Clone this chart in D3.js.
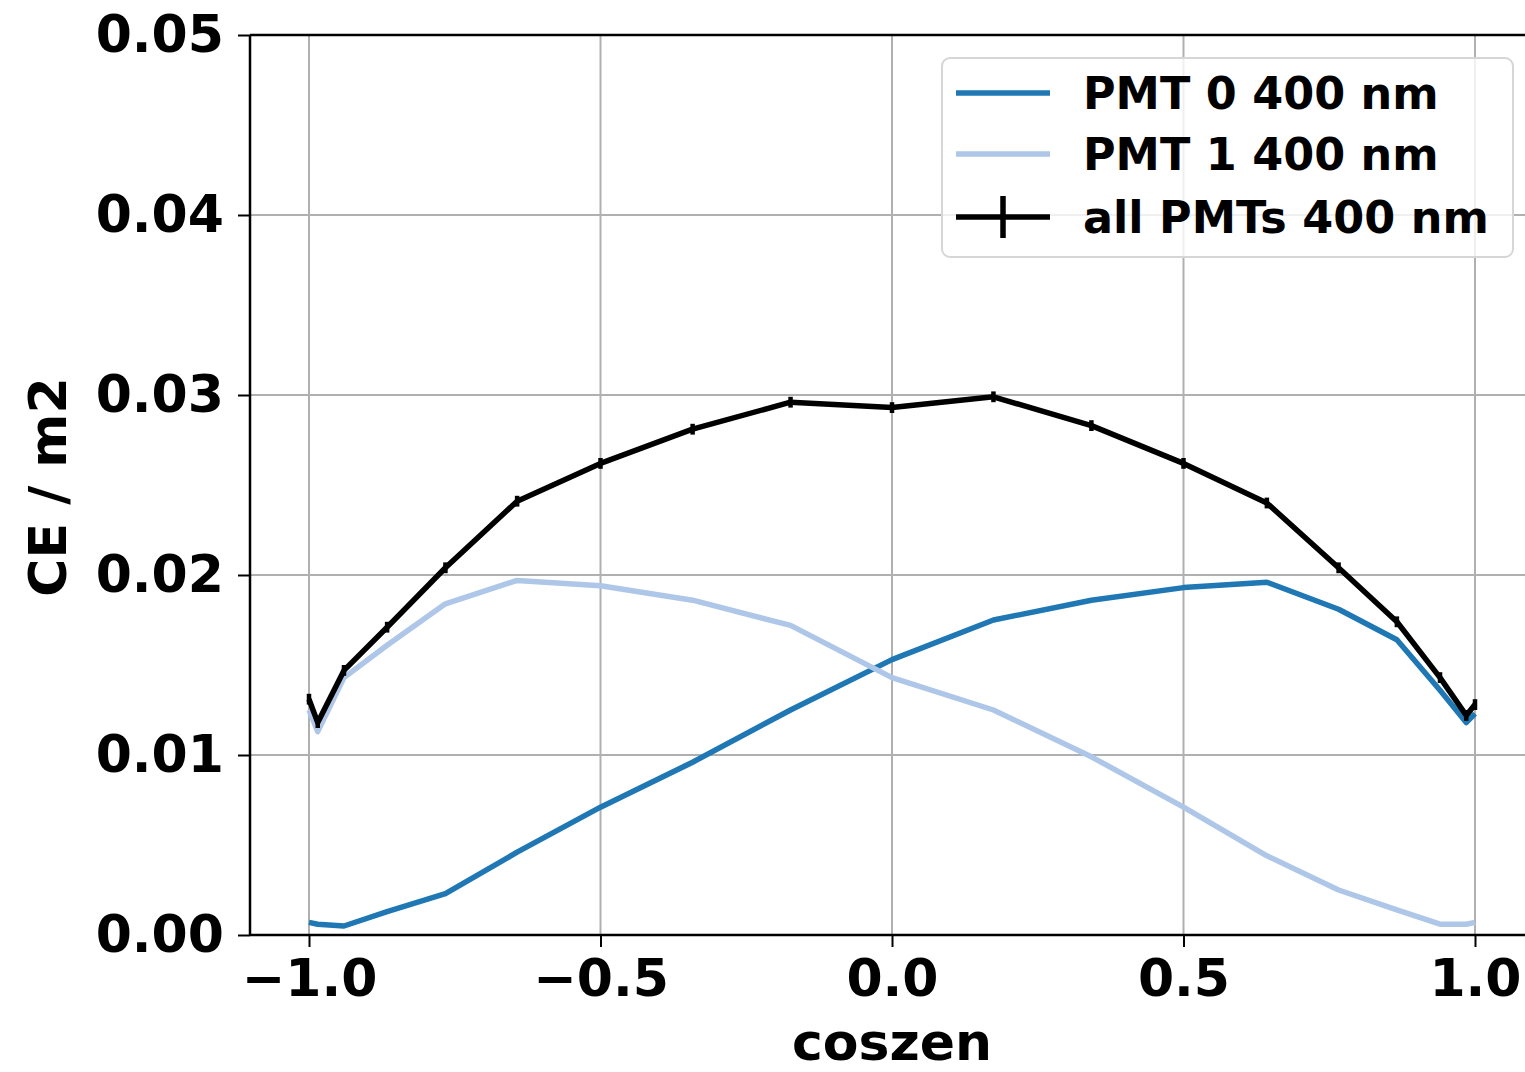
<!DOCTYPE html>
<html lang="en">
<head>
    <meta charset="UTF-8">
    <title>CE vs coszen</title>
    <script src="https://d3js.org/d3.v7.min.js"></script>
    <style>
        body { margin: 0; background: #fff; }
        text { font-family: "DejaVu Sans", sans-serif; font-weight: bold; }
        .grid line { stroke: #b0b0b0; stroke-width: 2px; }
        .series { fill: none; stroke-width: 5.5px; stroke-linejoin: round; }
    </style>
</head>
<body>
    <svg width="1525" height="1072"></svg>
    <script>
        // cos(zenith) sample points, 180 deg .. 0 deg in 10 deg steps
        const coszen = [-1.0, -0.985, -0.940, -0.866, -0.766, -0.643, -0.5, -0.342, -0.174, 0.0,
                        0.174, 0.342, 0.5, 0.643, 0.766, 0.866, 0.940, 0.985, 1.0];

        const pmt0 = [0.0007, 0.0006, 0.0005, 0.0013, 0.0023, 0.0046, 0.0071, 0.0096, 0.0125, 0.0153,
                      0.0175, 0.0186, 0.0193, 0.0196, 0.0181, 0.0164, 0.0136, 0.0118, 0.0123];
        const pmt1 = [0.0125, 0.0113, 0.0143, 0.0161, 0.0184, 0.0197, 0.0194, 0.0186, 0.0172, 0.0143,
                      0.0125, 0.0099, 0.0071, 0.0044, 0.0025, 0.0014, 0.0006, 0.0006, 0.0007];
        const allPmts = [0.0131, 0.0118, 0.0147, 0.0171, 0.0204, 0.0241, 0.0262, 0.0281, 0.0296, 0.0293,
                         0.0299, 0.0283, 0.0262, 0.0240, 0.0204, 0.0174, 0.0143, 0.0122, 0.0128];
        const allErr = [0.0003, 0.0003, 0.0003, 0.0003, 0.0003, 0.0003, 0.0003, 0.0003, 0.0003, 0.0003,
                        0.0003, 0.0003, 0.0003, 0.0003, 0.0003, 0.0003, 0.0003, 0.0003, 0.0003];

        const xTicks = [-1.0, -0.5, 0.0, 0.5, 1.0];
        const yTicks = [0.00, 0.01, 0.02, 0.03, 0.04, 0.05];

        const legendLabels = ["PMT 0 400 nm", "PMT 1 400 nm", "all PMTs 400 nm"];
        const colors = ["#1f77b4", "#aec7e8", "#000000"];

        const svg = d3.select("svg");
        const plotLeft = 250, plotTop = 35, plotBottom = 935;

        const x = d3.scaleLinear().domain([-1.1, 1.1]).range([250.7, 1533.3]);
        const y = d3.scaleLinear().domain([0, 0.05]).range([plotBottom, plotTop]);
        const plotRight = x(1.1);

        // grid
        const grid = svg.append("g").attr("class", "grid");
        grid.selectAll(".gx").data(xTicks).enter().append("line")
            .attr("x1", d => x(d)).attr("x2", d => x(d))
            .attr("y1", plotTop).attr("y2", plotBottom);
        grid.selectAll(".gy").data(yTicks).enter().append("line")
            .attr("x1", plotLeft).attr("x2", plotRight)
            .attr("y1", d => y(d)).attr("y2", d => y(d));

        // series
        const line = (ys) => d3.line().x((d, i) => x(coszen[i])).y(d => y(d))(ys);
        svg.append("path").attr("class", "series").attr("stroke", colors[0]).attr("d", line(pmt0));
        svg.append("path").attr("class", "series").attr("stroke", colors[1]).attr("d", line(pmt1));
        svg.append("path").attr("class", "series").attr("stroke", colors[2]).attr("stroke-width", 5).attr("d", line(allPmts));

        // error bars on the total
        svg.append("g").selectAll("line").data(allPmts).enter().append("line")
            .attr("x1", (d, i) => x(coszen[i])).attr("x2", (d, i) => x(coszen[i]))
            .attr("y1", (d, i) => y(d - allErr[i])).attr("y2", (d, i) => y(d + allErr[i]))
            .attr("stroke", "#000").attr("stroke-width", 4.5);

        // axes
        const xAxis = d3.axisBottom(x).tickValues(xTicks).tickSize(12).tickPadding(12)
            .tickFormat(d => d3.format(".1f")(d).replace("-", "\u2212"));
        const gx = svg.append("g").attr("transform", `translate(0,${plotBottom})`).call(xAxis);
        gx.select(".domain").remove();
        gx.append("line").attr("x1", plotLeft).attr("x2", plotRight).attr("stroke", "#000").attr("stroke-width", 2.5);
        gx.selectAll(".tick line").attr("stroke-width", 2);
        gx.selectAll(".tick text").attr("font-size", 52).attr("fill", "#000").attr("dy", "0.71em");

        const yAxis = d3.axisLeft(y).tickValues(yTicks).tickSize(12).tickPadding(14)
            .tickFormat(d3.format(".2f"));
        const gy = svg.append("g").attr("transform", `translate(${plotLeft},0)`).call(yAxis);
        gy.select(".domain").remove();
        gy.append("line").attr("y1", plotTop).attr("y2", plotBottom).attr("stroke", "#000").attr("stroke-width", 2.5);
        gy.selectAll(".tick line").attr("stroke-width", 2);
        gy.selectAll(".tick text").attr("font-size", 52).attr("fill", "#000");

        // top spine
        svg.append("line").attr("x1", plotLeft).attr("x2", plotRight).attr("y1", plotTop).attr("y2", plotTop)
            .attr("stroke", "#000").attr("stroke-width", 2.5);

        // axis labels
        svg.append("text").attr("x", x(0)).attr("y", 1060).attr("text-anchor", "middle")
            .attr("font-size", 52).text("coszen");
        svg.append("text").attr("transform", "translate(66,487) rotate(-90)")
            .attr("text-anchor", "middle").attr("font-size", 52).text("CE / m2");

        // legend
        const lg = svg.append("g");
        lg.append("rect").attr("x", 942).attr("y", 58).attr("width", 571).attr("height", 199)
            .attr("rx", 8).attr("fill", "#fff").attr("fill-opacity", 0.8)
            .attr("stroke", "#d6d6d6").attr("stroke-width", 2);
        const rowY = [93, 154, 217];
        legendLabels.forEach((lab, i) => {
            lg.append("line").attr("x1", 956).attr("x2", 1050).attr("y1", rowY[i]).attr("y2", rowY[i])
                .attr("stroke", colors[i]).attr("stroke-width", 5.5);
            if (i === 2) {
                lg.append("line").attr("x1", 1003).attr("x2", 1003)
                    .attr("y1", rowY[i] - 21).attr("y2", rowY[i] + 21)
                    .attr("stroke", "#000").attr("stroke-width", 5.5);
            }
            lg.append("text").attr("x", 1083).attr("y", rowY[i]).attr("dy", "0.36em")
                .attr("font-size", 44.5).text(lab);
        });
    </script>
</body>
</html>
